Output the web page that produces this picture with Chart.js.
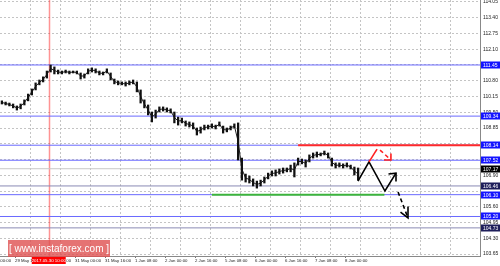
<!DOCTYPE html>
<html>
<head>
<meta charset="utf-8">
<script src="https://cdn.jsdelivr.net/npm/chart.js@4/dist/chart.umd.min.js"></script>
<style>
html, body { margin: 0; padding: 0; background: #fff; }
#chart { display: block; }
</style>
</head>
<body>
<canvas id="chart" width="500" height="266"></canvas>
<script>
// H1 bars, one entry for every second bar.
var barStep = 2;
var highs = [109.97, 109.92, 109.88, 109.84, 109.76, 109.84, 110.01, 110.25, 110.46, 110.71,
    110.83, 110.96, 111.20, 111.45, 111.37, 111.24, 111.20, 111.24, 111.20, 111.20,
    111.20, 111.12, 111.08, 111.29, 111.33, 111.29, 111.20, 111.16, 111.29, 111.12,
    110.87, 110.79, 110.75, 110.75, 110.79, 110.83, 110.75, 110.42, 110.01, 109.80,
    109.51, 109.59, 109.72, 109.72, 109.68, 109.64, 109.51, 109.30, 109.26, 109.14,
    109.10, 109.06, 108.85, 108.89, 108.97, 108.97, 109.02, 108.97, 109.10, 108.93,
    108.85, 108.93, 109.02, 109.06, 107.61, 106.95, 106.87, 106.75, 106.66, 106.70,
    106.83, 106.99, 107.08, 107.12, 107.16, 107.20, 107.20, 107.32, 107.41, 107.61,
    107.57, 107.53, 107.74, 107.82, 107.86, 107.82, 107.90, 107.82, 107.61, 107.41,
    107.41, 107.37, 107.41, 107.32, 107.24, 107.20];
var lows = [109.84, 109.80, 109.76, 109.68, 109.59, 109.64, 109.80, 109.97, 110.21, 110.42,
    110.63, 110.75, 110.91, 111.16, 111.08, 111.08, 111.08, 111.12, 111.08, 111.12,
    111.08, 110.87, 110.91, 111.08, 111.16, 111.12, 111.04, 111.04, 111.12, 110.83,
    110.67, 110.63, 110.63, 110.58, 110.63, 110.67, 110.34, 109.88, 109.68, 109.39,
    109.10, 109.26, 109.51, 109.55, 109.51, 109.47, 109.06, 108.97, 109.06, 108.93,
    108.89, 108.81, 108.56, 108.64, 108.77, 108.81, 108.85, 108.81, 108.93, 108.64,
    108.69, 108.77, 108.85, 107.53, 106.70, 106.62, 106.58, 106.46, 106.37, 106.46,
    106.58, 106.75, 106.87, 106.87, 106.95, 106.99, 107.04, 107.04, 106.83, 107.32,
    107.37, 107.24, 107.45, 107.61, 107.65, 107.70, 107.74, 107.61, 107.28, 107.20,
    107.24, 107.20, 107.24, 107.16, 106.91, 106.70];

// Time axis (bar numbers) and price axis.
var barCount = 256;
var timeBars = [-8, 8, 24, 40, 56, 72, 88, 104, 120, 136, 152, 168, 184];
var timeLabels = ["29 May 00:00", "29 May 16:00", "30 May 08:00", "31 May 00:00", "31 May 16:00",
    "1 Jun 08:00", "2 Jun 00:00", "2 Jun 16:00", "5 Jun 08:00", "6 Jun 00:00", "6 Jun 16:00",
    "7 Jun 08:00", "8 Jun 00:00"];
var gridBars = [16, 32, 48, 64, 80, 96, 112, 128, 144, 160, 176, 192, 208, 224, 240];
var priceMin = 103.57;
var priceMax = 114.13;
var priceTicks = [114.05, 113.40, 112.75, 112.10, 111.45, 110.80, 110.15, 109.50, 108.85,
    108.20, 107.55, 106.90, 106.25, 105.60, 104.95, 104.30, 103.65];
var hiddenPriceLabels = [111.45, 108.20, 107.55, 106.25];

// Horizontal levels.
var levels = [111.45, 109.34, 108.14, 107.52, 106.46, 106.10, 105.20, 104.73];
var levelKinds = ["blue", "blue", "blue", "blue", "dark", "blue", "blue", "dark"];
var bidPrice = 107.17;
var resistanceBars = [159, 256];
var resistancePrice = 108.14;
var supportBars = [113, 205];
var supportPrice = 106.10;

// Forecast arrows: [bar, price].
var redPath = [[196.8, 107.45], [201.1, 107.98]];
var redDashed = [[202.7, 107.94], [208.5, 107.53]];
var redHead = [[208.5, 107.80], [208.5, 107.53], [204.8, 107.53]];
var blackPath = [[190.9, 106.66], [196.8, 107.45], [205.3, 106.25], [211.2, 106.99]];
var blackHead = [[207.2, 106.95], [211.2, 106.99], [211.2, 106.64]];
var blackDashed = [[212.3, 106.21], [217.6, 105.14]];
var blackDashedHead = [[217.6, 105.61], [217.6, 105.14], [213.6, 105.38]];

// Crosshair marker.
var markBar = 26;
var markLabel = "2017.05.30 10:00";

var levelLineColors = { blue: "#6a6aff", dark: "#8a8ab4" };
var levelBoxColors = { blue: "#1414ff", dark: "#1e1e5a" };
var fontFamily = '"Liberation Sans", Arial, sans-serif';

Chart.defaults.font.family = fontFamily;
Chart.defaults.font.size = 5;

function toPoints(list) {
    return list.map(function (p) { return { x: p[0], y: p[1] }; });
}

function flatLine(value, from, to, color, width, order) {
    return {
        type: "line",
        data: [{ x: from, y: value }, { x: to, y: value }],
        borderColor: color,
        borderWidth: width,
        pointRadius: 0,
        xAxisID: "x",
        yAxisID: "y",
        order: order
    };
}

function pathLine(list, color, dashed) {
    return {
        type: "line",
        data: toPoints(list),
        borderColor: color,
        borderWidth: 1.6,
        borderDash: dashed ? [4, 3] : [],
        pointRadius: 0,
        tension: 0,
        xAxisID: "x",
        yAxisID: "y",
        order: 0
    };
}

var datasets = [];
datasets.push({
    type: "bar",
    data: highs.map(function (h, i) { return { x: i * barStep + 1, y: [lows[i], h] }; }),
    backgroundColor: "#111",
    barThickness: 1.6,
    xAxisID: "x",
    yAxisID: "y",
    order: 1
});
// Thin close-to-close trace so the bars read as one jagged path.
datasets.push({
    type: "line",
    data: highs.map(function (h, i) { return { x: i * barStep + 1, y: (h + lows[i]) / 2 }; }),
    borderColor: "#222",
    borderWidth: 1,
    pointRadius: 0,
    tension: 0,
    xAxisID: "x",
    yAxisID: "y",
    order: 1
});
levels.forEach(function (v, i) {
    datasets.push(flatLine(v, 0, barCount, levelLineColors[levelKinds[i]], 1, 3));
});
datasets.push(flatLine(bidPrice, 0, barCount, "#c8c8c8", 1, 3));
datasets.push(flatLine(resistancePrice, resistanceBars[0], resistanceBars[1], "#ff2a2a", 2, 2));
datasets.push(flatLine(supportPrice, supportBars[0], supportBars[1], "#3cb43c", 2, 2));
datasets.push(pathLine(redPath, "#ff2020", false));
datasets.push(pathLine(redDashed, "#ff2020", true));
datasets.push(pathLine(redHead, "#ff2020", false));
datasets.push(pathLine(blackPath, "#000", false));
datasets.push(pathLine(blackHead, "#000", false));
datasets.push(pathLine(blackDashed, "#000", true));
datasets.push(pathLine(blackDashedHead, "#000", false));

// Red vertical line under the bars.
var markerLine = {
    id: "markerLine",
    beforeDatasetsDraw: function (chart) {
        var ctx = chart.ctx, area = chart.chartArea;
        var px = Math.round(chart.scales.x.getPixelForValue(markBar)) + 0.5;
        ctx.save();
        ctx.strokeStyle = "rgba(255, 60, 60, 0.55)";
        ctx.lineWidth = 1.5;
        ctx.beginPath();
        ctx.moveTo(px, area.top);
        ctx.lineTo(px, area.bottom);
        ctx.stroke();
        ctx.restore();
    }
};

// Price boxes on the right axis, watermark and the crosshair time box.
var overlays = {
    id: "overlays",
    afterDraw: function (chart) {
        var ctx = chart.ctx, area = chart.chartArea, ys = chart.scales.y;
        ctx.save();
        ctx.font = "5px " + fontFamily;
        ctx.textBaseline = "middle";
        function priceBox(v, fill) {
            var py = Math.round(ys.getPixelForValue(v));
            ctx.fillStyle = fill;
            ctx.fillRect(area.right + 1, py - 3.5, 19, 7);
            ctx.fillStyle = "#fff";
            ctx.textAlign = "left";
            ctx.fillText(v.toFixed(2), area.right + 3, py + 0.5);
        }
        levels.forEach(function (v, i) { priceBox(v, levelBoxColors[levelKinds[i]]); });
        priceBox(bidPrice, "#000");

        // Watermark.
        ctx.fillStyle = "rgba(222, 80, 80, 0.8)";
        ctx.fillRect(area.left + 8, area.bottom - 16, 102, 17);
        ctx.fillStyle = "#fff";
        ctx.textAlign = "center";
        ctx.font = "10px " + fontFamily;
        ctx.fillText("[ www.instaforex.com ]", area.left + 59, area.bottom - 7);

        // Crosshair time box.
        var px = chart.scales.x.getPixelForValue(markBar);
        ctx.fillStyle = "#ff0000";
        ctx.fillRect(px - 17, area.bottom + 1, 34, 7);
        ctx.fillStyle = "#fff";
        ctx.font = "4.4px " + fontFamily;
        ctx.fillText(markLabel, px, area.bottom + 4.5);
        ctx.restore();
    }
};

const ctx = document.getElementById("chart").getContext("2d");
const myChart = new Chart(ctx, {
    type: "bar",
    data: { datasets: datasets },
    options: {
        responsive: false,
        devicePixelRatio: 1,
        animation: false,
        events: [],
        layout: { padding: 0 },
        plugins: {
            legend: { display: false },
            tooltip: { enabled: false }
        },
        scales: {
            x: {
                type: "linear",
                axis: "x",
                position: "bottom",
                min: 0,
                max: barCount,
                offset: false,
                afterBuildTicks: function (s) {
                    s.ticks = timeBars.map(function (v) { return { value: v }; });
                },
                afterFit: function (s) {
                    s.height = 10;
                    s.paddingLeft = 0;
                    s.paddingRight = 0;
                },
                ticks: {
                    autoSkip: false,
                    maxRotation: 0,
                    minRotation: 0,
                    align: "start",
                    padding: 0,
                    color: "#222",
                    font: { size: 4.3 },
                    callback: function (v, i) { return timeLabels[i]; }
                },
                grid: { offset: false, drawOnChartArea: false, drawTicks: true, tickLength: 2, color: "#777" },
                border: { display: true, color: "#888" }
            },
            xg: {
                type: "linear",
                axis: "x",
                position: "bottom",
                min: 0,
                max: barCount,
                offset: false,
                afterBuildTicks: function (s) {
                    s.ticks = gridBars.map(function (v) { return { value: v }; });
                },
                afterFit: function (s) {
                    s.height = 0;
                    s.paddingLeft = 0;
                    s.paddingRight = 0;
                },
                ticks: { display: false },
                grid: { offset: false, drawTicks: false, color: "#c4c4c4" },
                border: { display: false, dash: [2, 2] }
            },
            y: {
                type: "linear",
                position: "right",
                min: priceMin,
                max: priceMax,
                beginAtZero: false,
                afterBuildTicks: function (s) {
                    s.ticks = priceTicks.map(function (v) { return { value: v }; });
                },
                afterFit: function (s) {
                    s.width = 20;
                    s.paddingTop = 0;
                    s.paddingBottom = 0;
                },
                ticks: {
                    padding: 3,
                    color: "#222",
                    callback: function (v, i) {
                        return hiddenPriceLabels.indexOf(priceTicks[i]) >= 0 ? "" : priceTicks[i].toFixed(2);
                    }
                },
                grid: { drawTicks: false, color: "#c4c4c4" },
                border: { display: true, color: "#888", dash: [2, 2] }
            }
        }
    },
    plugins: [markerLine, overlays]
});
</script>
</body>
</html>
